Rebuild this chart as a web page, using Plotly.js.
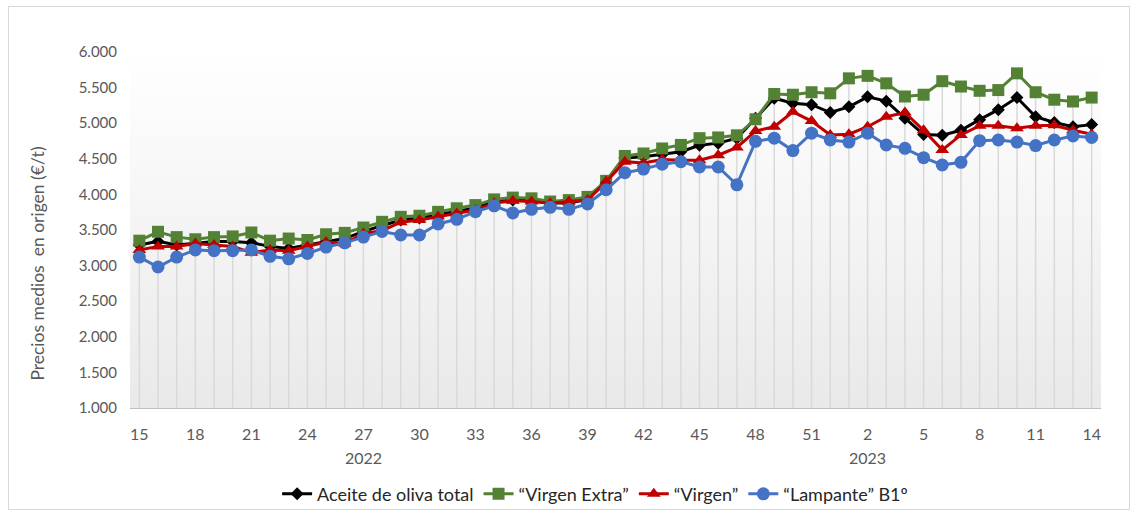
<!DOCTYPE html>
<html>
<head>
<meta charset="utf-8">
<script src="https://cdn.plot.ly/plotly-3.0.1.min.js"></script>
<style>
html,body{margin:0;padding:0;background:#fff;}
#wrap{position:relative;width:1136px;height:513px;}
#chart{width:1136px;height:513px;}
#frame{position:absolute;left:8px;top:6px;width:1120px;height:502px;border:1px solid #d9d9d9;pointer-events:none;}
</style>
</head>
<body>
<div id="wrap"><div id="chart"></div><div id="frame"></div></div>
<script>
// Week labels (2022 wk 15 .. 2023 wk 14)
const weeks = [15,16,17,18,19,20,21,22,23,24,25,26,27,28,29,30,31,32,33,34,35,36,37,38,39,40,41,42,43,44,45,46,47,48,49,50,51,52,1,2,3,4,5,6,7,8,9,10,11,12,13,14];
const yearLabels = ["2022","2023"];
const yearAt = [12,39];

const total = [3290,3340,3290,3320,3340,3340,3320,3270,3240,3290,3340,3380,3480,3560,3640,3670,3720,3770,3810,3900,3920,3910,3880,3880,3930,4170,4510,4530,4560,4600,4690,4720,4790,5070,5350,5280,5260,5150,5230,5370,5310,5070,4840,4830,4900,5050,5190,5360,5090,5010,4950,4980];
const extra = [3350,3475,3400,3370,3400,3410,3465,3350,3380,3360,3440,3460,3535,3615,3685,3700,3755,3805,3850,3930,3955,3945,3900,3920,3965,4190,4540,4575,4645,4695,4790,4800,4830,5055,5410,5400,5435,5420,5630,5665,5560,5375,5400,5590,5515,5455,5465,5700,5435,5330,5305,5360];
const virgen = [3220,3270,3270,3310,3290,3270,3180,3220,3210,3270,3330,3310,3450,3490,3610,3640,3690,3730,3780,3880,3910,3900,3875,3900,3920,4180,4460,4440,4490,4480,4480,4550,4660,4890,4950,5160,5030,4835,4845,4950,5090,5150,4900,4625,4835,4965,4965,4930,4965,4970,4900,4845];
const lampante = [3120,2980,3120,3220,3210,3210,3220,3130,3095,3170,3260,3320,3400,3480,3430,3430,3585,3650,3757,3840,3740,3790,3818,3790,3865,4065,4305,4355,4425,4460,4385,4385,4135,4745,4790,4615,4860,4765,4735,4860,4694,4647,4516,4413,4451,4755,4764,4735,4686,4764,4820,4800];

const seriesNames = ["Aceite de oliva total","\u201cVirgen Extra\u201d","\u201cVirgen\u201d","\u201cLampante\u201d B1\u00ba"];
const yTitle = 'Precios medios  en origen (\u20ac/t)';

const idx = weeks.map((w,i)=>i);
const yMin = 1000;

// drop lines from highest series point down to the axis
const dx = [], dy = [];
idx.forEach(i=>{
  const m = Math.max(total[i],extra[i],virgen[i],lampante[i]);
  dx.push(i,i,null); dy.push(yMin,m,null);
});

const traces = [
  {x:dx,y:dy,mode:'lines',line:{color:'#d9d9d9',width:1.5},hoverinfo:'skip',showlegend:false},
  {x:idx,y:total,name:seriesNames[0],mode:'lines+markers',line:{color:'#000000',width:3},marker:{symbol:'diamond',size:10,color:'#000000'}},
  {x:idx,y:extra,name:seriesNames[1],mode:'lines+markers',line:{color:'#548235',width:3},marker:{symbol:'square',size:12,color:'#548235'}},
  {x:idx,y:virgen,name:seriesNames[2],mode:'lines+markers',line:{color:'#c00000',width:3},marker:{symbol:'triangle-up',size:12,color:'#c00000'}},
  {x:idx,y:lampante,name:seriesNames[3],mode:'lines+markers',line:{color:'#4472c4',width:3},marker:{symbol:'circle',size:13,color:'#4472c4'}}
];

const tickIdx = idx.filter(i=>i%3===0);
const tickTxt = tickIdx.map(i=>String(weeks[i]));

const svg = '<svg xmlns="http://www.w3.org/2000/svg" width="100" height="100" preserveAspectRatio="none"><defs><linearGradient id="g" x1="0" y1="0" x2="0" y2="1"><stop offset="0" stop-color="#ffffff"/><stop offset="1" stop-color="#e9e9e9"/></linearGradient></defs><rect width="100" height="100" fill="url(#g)"/></svg>';

const annotations = yearLabels.map((t,k)=>({text:t,x:yearAt[k],xref:'x',y:-0.108,yref:'paper',yanchor:'top',showarrow:false,font:{size:16,color:'#595959'}}));
annotations.push({text:yTitle,textangle:-90,xref:'paper',yref:'paper',x:-0.095,y:0.405,xanchor:'center',yanchor:'middle',showarrow:false,font:{size:17.5,color:'#595959'}});

const layout = {
  width:1136,height:513,
  margin:{l:130,r:35,t:52,b:105,autoexpand:false},
  paper_bgcolor:'rgba(0,0,0,0)',plot_bgcolor:'rgba(0,0,0,0)',
  separators:',.',
  font:{family:'Lato, "Open Sans", sans-serif',color:'#595959',size:14},
  showlegend:true,
  legend:{orientation:'h',x:0.479,xanchor:'center',y:-0.19,yanchor:'top',font:{size:18,color:'#262626'},traceorder:'normal'},
  xaxis:{range:[-0.5,51.5],tickmode:'array',tickvals:tickIdx,ticktext:tickTxt,showgrid:false,zeroline:false,automargin:false,
         showline:true,linecolor:'#bfbfbf',linewidth:1,ticks:'',ticklabelstandoff:12,tickfont:{size:16,color:'#595959'},fixedrange:true},
  yaxis:{range:[1000,6000],dtick:500,tick0:1000,tickformat:',.0f',showgrid:false,zeroline:false,showline:false,automargin:false,
         ticks:'',tickfont:{size:15,color:'#595959'},ticklabelstandoff:12},
  images:[{source:'data:image/svg+xml;charset=utf-8,'+encodeURIComponent(svg),xref:'paper',yref:'paper',x:0,y:1,sizex:1,sizey:1,sizing:'stretch',layer:'below'}],
  annotations:annotations
};

Plotly.newPlot('chart',traces,layout,{displayModeBar:false,staticPlot:true});
</script>
</body>
</html>
